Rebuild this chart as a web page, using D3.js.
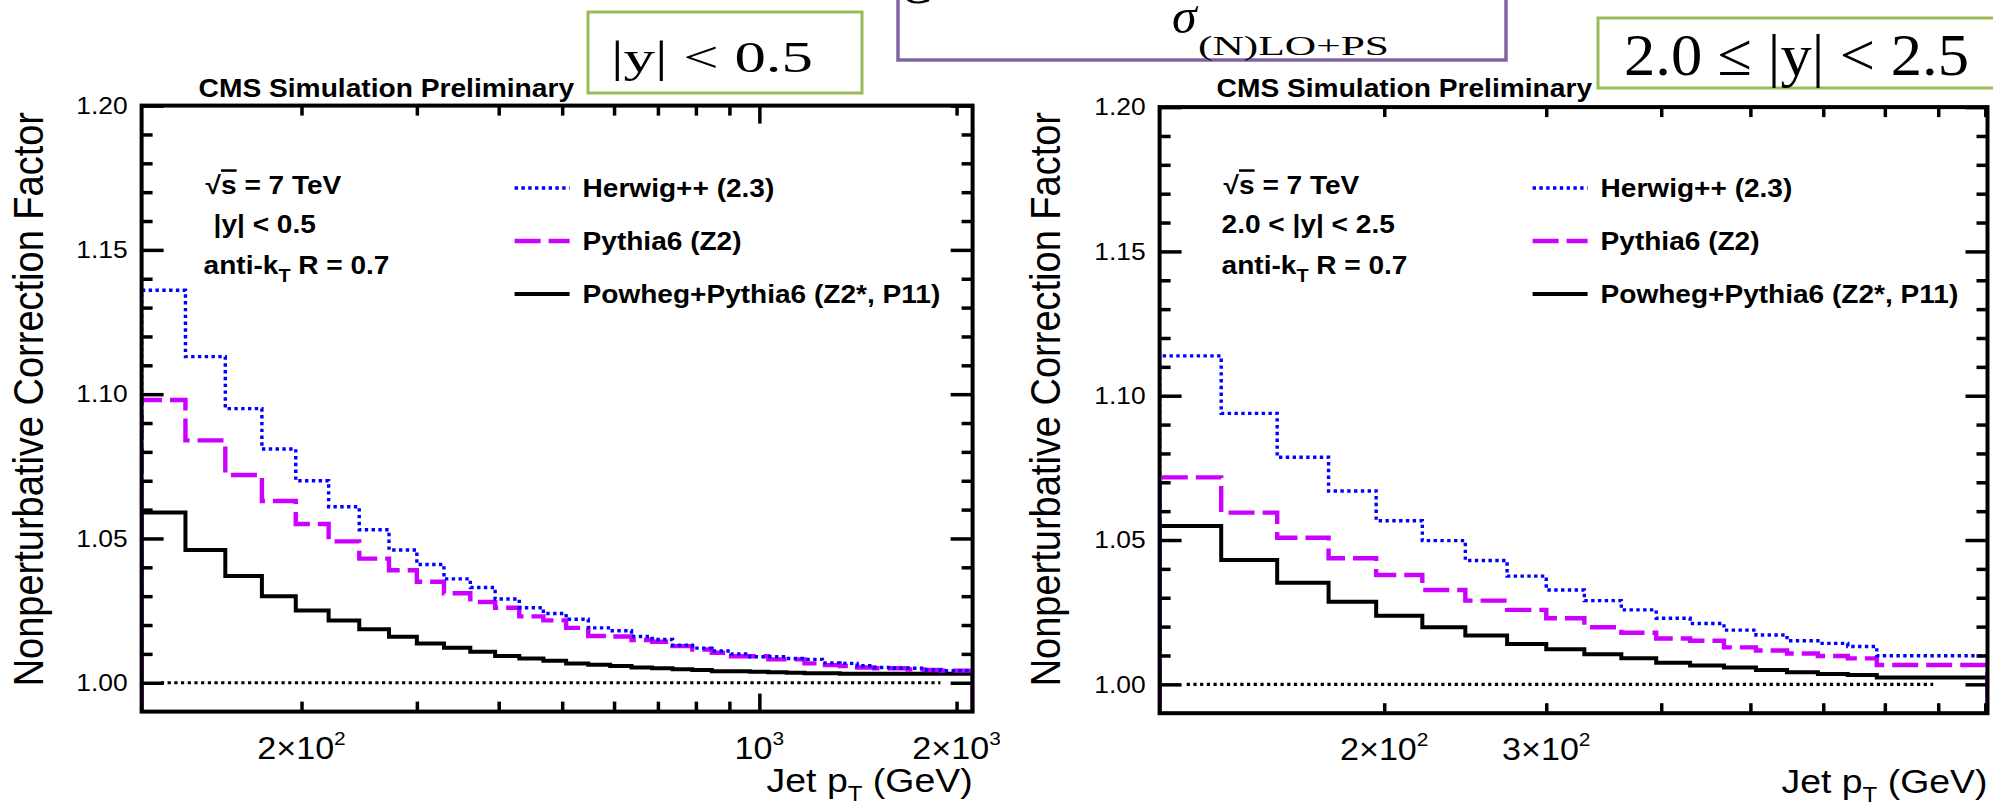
<!DOCTYPE html>
<html>
<head>
<meta charset="utf-8">
<script src="https://cdn.jsdelivr.net/npm/d3@7"></script>
<style>
  body { margin: 0; background: #fff; }
  svg { display: block; }
  text { font-family: "Liberation Sans", Arial, Helvetica, sans-serif; fill: #000; }
  .serif { font-family: "Liberation Serif", "Times New Roman", serif; }
</style>
</head>
<body>
<svg id="chart" width="1993" height="807"></svg>
<script>
// ---- data ----
// jet pT bin edges (GeV) and correction factors, |y| < 0.5
const edgesCentral = [114, 133, 153, 174, 196, 220, 245, 272, 300, 330, 362, 395, 430, 468, 507, 548, 592, 638, 686,
  737, 790, 846, 905, 967, 1032, 1101, 1172, 1248, 1327, 1410, 1497, 1588, 1684, 1784, 1890, 2000, 2116];
const herwigCentral = [1.136, 1.113, 1.095, 1.081, 1.070, 1.061, 1.053, 1.046, 1.041, 1.036, 1.033, 1.029, 1.026, 1.024,
  1.022, 1.019, 1.018, 1.016, 1.015, 1.013, 1.012, 1.011, 1.010, 1.009, 1.009, 1.0084, 1.0081, 1.0069, 1.0067, 1.0059,
  1.0053, 1.0050, 1.0050, 1.0044, 1.0042, 1.0042];
const pythiaCentral = [1.098, 1.084, 1.072, 1.063, 1.055, 1.049, 1.043, 1.039, 1.035, 1.031, 1.028, 1.026, 1.023, 1.0216,
  1.019, 1.0162, 1.016, 1.0148, 1.0142, 1.0127, 1.0115, 1.0104, 1.0092, 1.0092, 1.0081, 1.0081, 1.0067, 1.0061, 1.0058,
  1.0053, 1.0050, 1.0050, 1.0046, 1.0044, 1.0042, 1.0042];
const powhegCentral = [1.059, 1.046, 1.037, 1.030, 1.025, 1.0216, 1.0185, 1.0159, 1.0136, 1.0121, 1.0107, 1.0093, 1.0084,
  1.0076, 1.0067, 1.0062, 1.0058, 1.0053, 1.0050, 1.0047, 1.0044, 1.0040, 1.0040, 1.0038, 1.0036, 1.0035, 1.0033, 1.0033,
  1.0031, 1.0031, 1.0031, 1.0031, 1.0031, 1.0031, 1.0031, 1.0031];

// 2.0 <= |y| < 2.5
const edgesForward = [114, 133, 153, 174, 196, 220, 245, 272, 300, 330, 362, 395, 430, 468, 507, 548, 592, 638, 686, 905];
const herwigForward = [1.1138, 1.0939, 1.0787, 1.0670, 1.0567, 1.0498, 1.0429, 1.0375, 1.0327, 1.0290, 1.0258, 1.0229,
  1.0211, 1.0188, 1.0171, 1.0151, 1.0142, 1.0131, 1.0099];
const pythiaForward = [1.0717, 1.0595, 1.0508, 1.0437, 1.0379, 1.0327, 1.0290, 1.0258, 1.0229, 1.0198, 1.0179, 1.0159,
  1.0151, 1.0128, 1.0117, 1.0107, 1.0098, 1.0090, 1.0067];
const powhegForward = [1.0549, 1.0431, 1.0352, 1.0286, 1.0238, 1.0198, 1.0169, 1.0140, 1.0122, 1.0104, 1.0090, 1.0075,
  1.0065, 1.0058, 1.0050, 1.0042, 1.0036, 1.0032, 1.0024];

// axes
const yDomain = [0.99, 1.20];
const yMajorTicks = [1.00, 1.05, 1.10, 1.15, 1.20];
const yMinorTicks = [1.01, 1.02, 1.03, 1.04, 1.06, 1.07, 1.08, 1.09, 1.11, 1.12, 1.13, 1.14, 1.16, 1.17, 1.18, 1.19];
const xTicksCentral = [200, 300, 400, 500, 600, 700, 800, 900, 2000];
const xDecadeTicksCentral = [1000];
const xTicksForward = [200, 300, 400, 500, 600, 700, 800, 900];
const xLabelsCentral = [["2\u00d710", "2", 200], ["10", "3", 1000], ["2\u00d710", "3", 2000]];
const xLabelsForward = [["2\u00d710", "2", 200], ["3\u00d710", "2", 300]];
const unityLineCentral = [122, 1890];
const unityLineForward = [122, 790];

const legendLabels = ["Herwig++ (2.3)", "Pythia6 (Z2)", "Powheg+Pythia6 (Z2*, P11)"];
const rapidityCentral = "|y| < 0.5";
const rapidityForward = "2.0 < |y| < 2.5";

// ---- drawing ----
const svg = d3.select("#chart");
const SX = 1.1; // ROOT text in the picture is a little wider than Arial

const seriesStyles = [
  { color: "#0000ff", width: 3.4, dash: "3.4,3.4" },
  { color: "#cc00ff", width: 4.4, dash: "26,8" },
  { color: "#000000", width: 4, dash: null }
];

const panels = [
  {
    id: "central", edges: edgesCentral, series: [herwigCentral, pythiaCentral, powhegCentral],
    xDomain: [114, 2116], left: 141.6, right: 972.6, top: 105.6, bottom: 711.6,
    xTicks: xTicksCentral, xDecades: xDecadeTicksCentral, xLabels: xLabelsCentral,
    unity: unityLineCentral, rapidity: rapidityCentral, clipRight: 1000, titleX: 43, infoX: 72
  },
  {
    id: "forward", edges: edgesForward, series: [herwigForward, pythiaForward, powhegForward],
    xDomain: [114, 905], left: 1159.6, right: 1987.5, top: 107.1, bottom: 713.2,
    xTicks: xTicksForward, xDecades: [], xLabels: xLabelsForward,
    unity: unityLineForward, rapidity: rapidityForward, clipRight: 1993, titleX: 1060, infoX: 62
  }
];

function txt(parent, x, y, size, opts = {}) {
  const t = parent.append("text")
    .attr("transform", `translate(${x},${y}) scale(${opts.sx || SX},1)`)
    .attr("font-size", size);
  if (opts.anchor) t.attr("text-anchor", opts.anchor);
  if (opts.bold) t.attr("font-weight", "bold");
  return t;
}

panels.forEach(drawPanel);

function drawPanel(p) {
  const x = d3.scaleLog().domain(p.xDomain).range([p.left, p.right]);
  const y = d3.scaleLinear().domain(yDomain).range([p.bottom, p.top]);
  const w = p.right - p.left;
  const h = p.bottom - p.top;

  const defs = svg.append("defs");
  defs.append("clipPath").attr("id", "frame-" + p.id)
    .append("rect").attr("x", p.left).attr("y", p.top).attr("width", w).attr("height", h);
  defs.append("clipPath").attr("id", "pane-" + p.id)
    .append("rect").attr("x", p.left - 160).attr("y", 0).attr("width", p.clipRight - p.left + 160).attr("height", 807);

  const g = svg.append("g").attr("clip-path", `url(#pane-${p.id})`);

  // unity reference line
  g.append("line")
    .attr("x1", x(p.unity[0])).attr("x2", x(p.unity[1]))
    .attr("y1", y(1.0)).attr("y2", y(1.0))
    .attr("stroke", "#000").attr("stroke-width", 3.2).attr("stroke-dasharray", "3.2,3.5");

  // histograms
  const hist = g.append("g").attr("clip-path", `url(#frame-${p.id})`);
  const line = d3.line().x(d => x(d[0])).y(d => y(d[1])).curve(d3.curveStepAfter);
  // powheg first, herwig on top
  [2, 1, 0].forEach(i => {
    const vals = p.series[i];
    const pts = [[p.edges[0], yDomain[0]]];
    vals.forEach((v, k) => pts.push([p.edges[k], v]));
    pts.push([p.edges[p.edges.length - 1], vals[vals.length - 1]]);
    pts.push([p.edges[p.edges.length - 1], yDomain[0]]);
    const st = seriesStyles[i];
    hist.append("path")
      .attr("d", line(pts))
      .attr("fill", "none")
      .attr("stroke", st.color)
      .attr("stroke-width", st.width)
      .attr("stroke-dasharray", st.dash);
  });

  // ticks pointing inward, ROOT style
  const tickStyle = sel => {
    sel.select(".domain").remove();
    sel.selectAll(".tick line").attr("stroke", "#000").attr("stroke-width", 3.5);
  };
  g.append("g").attr("transform", `translate(${p.left},0)`)
    .call(d3.axisLeft(y).tickValues(yMinorTicks).tickSize(-11).tickFormat("")).call(tickStyle);
  const yMaj = g.append("g").attr("transform", `translate(${p.left},0)`)
    .call(d3.axisLeft(y).tickValues(yMajorTicks).tickSize(-22).tickPadding(14).tickFormat(d3.format(".2f")))
    .call(tickStyle);
  yMaj.selectAll(".tick text")
    .attr("font-family", "'Liberation Sans', Arial, sans-serif")
    .attr("font-size", 24).attr("fill", "#000")
    .attr("transform", `scale(${SX},1)`)
    .attr("x", -14 / SX);

  g.append("g").attr("transform", `translate(${p.right},0)`)
    .call(d3.axisRight(y).tickValues(yMinorTicks).tickSize(-11).tickFormat("")).call(tickStyle);
  g.append("g").attr("transform", `translate(${p.right},0)`)
    .call(d3.axisRight(y).tickValues(yMajorTicks).tickSize(-22).tickFormat("")).call(tickStyle);

  g.append("g").attr("transform", `translate(0,${p.bottom})`)
    .call(d3.axisBottom(x).tickValues(p.xTicks).tickSize(-10).tickFormat("")).call(tickStyle);
  g.append("g").attr("transform", `translate(0,${p.bottom})`)
    .call(d3.axisBottom(x).tickValues(p.xDecades).tickSize(-18).tickFormat("")).call(tickStyle);
  g.append("g").attr("transform", `translate(0,${p.top})`)
    .call(d3.axisTop(x).tickValues(p.xTicks).tickSize(-10).tickFormat("")).call(tickStyle);
  g.append("g").attr("transform", `translate(0,${p.top})`)
    .call(d3.axisTop(x).tickValues(p.xDecades).tickSize(-18).tickFormat("")).call(tickStyle);

  // frame
  g.append("rect")
    .attr("x", p.left).attr("y", p.top).attr("width", w).attr("height", h)
    .attr("fill", "none").attr("stroke", "#000").attr("stroke-width", 4);

  // x tick labels with exponents
  p.xLabels.forEach(([mant, exp, v]) => {
    const t = txt(g, x(v), p.bottom + 47, 31, { anchor: "middle" });
    t.append("tspan").text(mant);
    t.append("tspan").attr("dy", -14).attr("font-size", 19).text(exp);
  });

  // axis titles
  const xt = txt(g, p.right, p.bottom + 80, 34, { anchor: "end" });
  xt.append("tspan").text("Jet p");
  xt.append("tspan").attr("dy", 9).attr("font-size", 22).text("T");
  xt.append("tspan").attr("dy", -9).text(" (GeV)");

  g.append("text")
    .attr("transform", `translate(${p.titleX},112) rotate(-90) scale(1,1.1)`)
    .attr("text-anchor", "end")
    .attr("font-size", 38)
    .text("Nonperturbative Correction Factor");

  // CMS label
  txt(g, p.left + 57, 97, 25.6, { bold: true }).text("CMS Simulation Preliminary");

  // info text
  const s = txt(g, p.left + 64, 194, 25.5, { bold: true });
  s.append("tspan").text("\u221a");
  s.append("tspan").style("text-decoration", "overline").text("s");
  s.append("tspan").text(" = 7 TeV");
  txt(g, p.left + p.infoX, 233, 25.5, { bold: true }).text(p.rapidity);
  const ak = txt(g, p.left + 62, 274, 25.5, { bold: true });
  ak.append("tspan").text("anti-k");
  ak.append("tspan").attr("dy", 8).attr("font-size", 18).text("T");
  ak.append("tspan").attr("dy", -8).text(" R = 0.7");

  // legend
  const legY = [188, 241, 294];
  legendLabels.forEach((lab, i) => {
    const st = seriesStyles[i];
    g.append("line")
      .attr("x1", p.left + 373).attr("x2", p.left + 428)
      .attr("y1", legY[i]).attr("y2", legY[i])
      .attr("stroke", st.color).attr("stroke-width", st.width)
      .attr("stroke-dasharray", st.dash);
    txt(g, p.left + 441, legY[i] + 9, 25.5, { bold: true }).text(lab);
  });
}

// ---- slide overlays ----
const boxes = [
  { x: 588, y: 12, w: 274, h: 81, tx: 611, ty: 72, size: 45, len: 202, label: "|y| < 0.5" },
  { x: 1598, y: 18, w: 420, h: 70, tx: 1624, ty: 75, size: 60, len: 345, label: "2.0 \u2264 |y| < 2.5" }
];
boxes.forEach(b => {
  svg.append("rect")
    .attr("x", b.x).attr("y", b.y).attr("width", b.w).attr("height", b.h)
    .attr("fill", "#fff").attr("stroke", "#9bbb59").attr("stroke-width", 3);
  svg.append("text").attr("class", "serif")
    .attr("x", b.tx).attr("y", b.ty)
    .attr("font-size", b.size)
    .attr("textLength", b.len).attr("lengthAdjust", "spacingAndGlyphs")
    .text(b.label);
});

svg.append("rect")
  .attr("x", 898).attr("y", -20).attr("width", 608).attr("height", 80)
  .attr("fill", "#fff").attr("stroke", "#8064a2").attr("stroke-width", 3.5);
svg.append("text").attr("class", "serif")
  .attr("x", 900).attr("y", 3).attr("font-size", 50).attr("font-style", "italic").text("C");
svg.append("text").attr("class", "serif")
  .attr("x", 1003).attr("y", 12).attr("font-size", 56).text("=");
svg.append("text").attr("class", "serif")
  .attr("x", 1172).attr("y", 33).attr("font-size", 50).attr("font-style", "italic").text("\u03c3");
svg.append("text").attr("class", "serif")
  .attr("x", 1198).attr("y", 55).attr("font-size", 27)
  .attr("textLength", 191).attr("lengthAdjust", "spacingAndGlyphs")
  .text("(N)LO+PS");
</script>
</body>
</html>
